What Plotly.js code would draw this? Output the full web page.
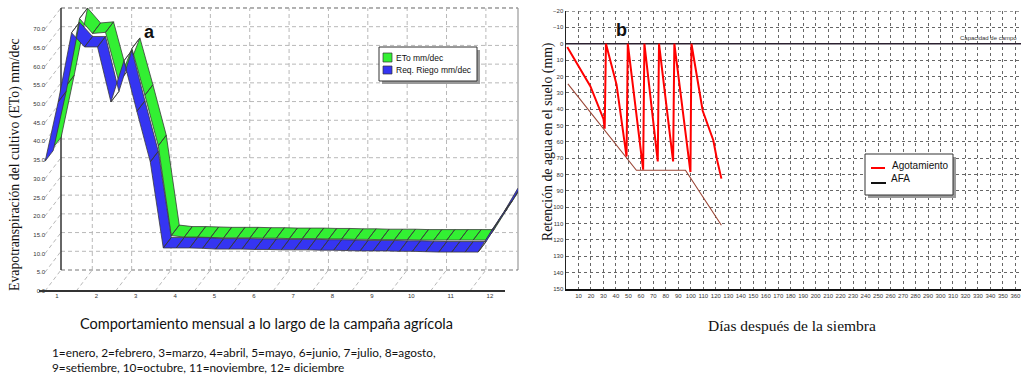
<!DOCTYPE html>
<html><head><meta charset="utf-8">
<script src="https://cdn.plot.ly/plotly-3.0.1.min.js"></script>
<style>html,body{margin:0;padding:0;background:#fff;}#chart{width:1022px;height:377px;}</style>
</head><body><div id="chart"></div>
<script>
// ---------- Panel a data (decadal points, month units) ----------
const decadePos = [0.70,1.03,1.37,1.70,2.03,2.37,2.70,3.03,3.37,3.70,4.03,4.37,4.70,5.03,5.37,5.70,6.03,6.37,6.70,7.03,7.37,7.70,8.03,8.37,8.70,9.03,9.37,9.70,10.03,10.37,10.70,11.03,11.37,11.70,12.03,12.37,12.70];
const etoValues   = [35.5,52.0,70.0,66.0,66.3,53.0,62.0,49.5,36.0,12.0,11.6,11.6,11.5,11.4,11.4,11.4,11.3,11.3,11.2,11.2,11.2,11.1,11.1,11.0,11.0,10.9,10.9,10.9,10.8,10.8,10.8,10.8,10.8,10.8,16.3,21.8,27.5];
const riegoValues = [34.7,50.5,69.0,65.2,65.2,50.5,61.5,48.0,34.5,11.5,11.5,11.5,11.4,11.2,11.2,11.2,11.1,11.1,11.0,11.0,11.0,10.9,10.9,10.8,10.7,10.7,10.7,10.6,10.6,10.5,10.4,10.4,10.4,10.4,16.0,21.4,27.3];
const monthTicks = [1,2,3,4,5,6,7,8,9,10,11,12];
const etoTicks = [0,5,10,15,20,25,30,35,40,45,50,55,60,65,70];
const gridMonths = [1.49,2.49,3.49,4.49,5.49,6.49,7.49,8.49,9.49,10.49,11.49];
const seriesNamesA = ["ETo mm/dec","Req. Riego mm/dec"];

// ---------- Panel b data ----------
const agotDays = [1,19.5,30,31,32,40.5,48.5,49.5,61.8,62.8,73.5,74.5,85.8,86.8,99.7,100.5,109.5,118,121,124.5];
const agotMm   = [2,26,46,52,0,25,69,0,77,0,72,0,72,0,78.5,0,41,59,71,82.5];
const afaDays = [1.5,56.4,95.7,124.5];
const afaMm   = [24.6,77.4,77.4,111];
const capDays = [0,365];
const capMm = [0,0];
const dayTicks = [10,20,30,40,50,60,70,80,90,100,110,120,130,140,150,160,170,180,190,200,210,220,230,240,250,260,270,280,290,300,310,320,330,340,350,360];
const mmTicks = [-20,-10,0,10,20,30,40,50,60,70,80,90,100,110,120,130,140,150];

// ---------- geometry ----------
const W=1022,H=377;
const fx = p => p/W, fy = p => 1-p/H;
const mOf = px => 1+(px-57)/39.36;       // panel a pixel -> month
const vOf = py => (291-py)/3.743;         // panel a pixel -> value
const dxF = 16/39.36, dyF = 21/3.743;     // full 3D depth in data units
const XL = mOf(45), XR = mOf(518), TOP = 70;

function ribbon(xs, vs, slot, color, name){
  const hx=dxF/2, hy=dyF/2;
  const f=[slot*hx, slot*hy], b=[(slot+1)*hx,(slot+1)*hy];
  const X=[],Y=[];
  for(let i=0;i<xs.length-1;i++){
    X.push(xs[i]+f[0], xs[i+1]+f[0], xs[i+1]+b[0], xs[i]+b[0], xs[i]+f[0], null);
    Y.push(vs[i]+f[1], vs[i+1]+f[1], vs[i+1]+b[1], vs[i]+b[1], vs[i]+f[1], null);
  }
  return {type:'scatter',mode:'lines',x:X,y:Y,fill:'toself',fillcolor:color,
    line:{color:'#3a3a3a',width:0.8},xaxis:'x',yaxis:'y',name:name,showlegend:false,hoverinfo:'skip'};
}

const traces = [
  ribbon(decadePos, etoValues, 1, '#33f033', seriesNamesA[0]),
  ribbon(decadePos, riegoValues, 0, '#3535f2', seriesNamesA[1]),
  {type:'scatter',mode:'lines',x:capDays,y:capMm,xaxis:'x2',yaxis:'y2',line:{color:'#2b2030',width:1.6},showlegend:false,name:'Capacidad de campo'},
  {type:'scatter',mode:'lines',x:afaDays,y:afaMm,xaxis:'x2',yaxis:'y2',line:{color:'#9a4535',width:1.1},showlegend:false,name:'AFA'},
  {type:'scatter',mode:'lines',x:agotDays,y:agotMm,xaxis:'x2',yaxis:'y2',line:{color:'#ff0000',width:2},showlegend:false,name:'Agotamiento'}
];

const shapes = [];
const gA = {color:'#b8b8b8',width:1,dash:'4px,3px'};
etoTicks.forEach(v=>{ if(v>0) shapes.push({type:'line',xref:'x',yref:'y',x0:XL+dxF,x1:XR,y0:v+dyF,y1:v+dyF,line:gA,layer:'below'}); });
shapes.push({type:'line',xref:'x',yref:'y',x0:XL+dxF,x1:XR,y0:dyF,y1:dyF,line:{color:'#777',width:1,dash:'4px,3px'},layer:'below'});
shapes.push({type:'line',xref:'x',yref:'y',x0:XL+dxF,x1:XR,y0:TOP+dyF,y1:TOP+dyF,line:{color:'#888',width:1,dash:'4px,3px'},layer:'below'});
gridMonths.forEach(g=>{
  shapes.push({type:'line',xref:'x',yref:'y',x0:g+dxF,x1:g+dxF,y0:dyF,y1:TOP+dyF,line:gA,layer:'below'});
  shapes.push({type:'line',xref:'x',yref:'y',x0:g,x1:g+dxF,y0:0,y1:dyF,line:gA,layer:'below'});
});
etoTicks.forEach(v=>{ shapes.push({type:'line',xref:'x',yref:'y',x0:XL,x1:XL+dxF,y0:v,y1:v+dyF,line:gA,layer:'below'}); });
shapes.push({type:'line',xref:'x',yref:'y',x0:XL+dxF,x1:XL+dxF,y0:dyF,y1:TOP+dyF,line:{color:'#333',width:1.5},layer:'below'});
shapes.push({type:'line',xref:'paper',yref:'y',x0:fx(518),x1:fx(518),y0:dyF,y1:TOP+dyF,line:{color:'#999',width:1.2},layer:'below'});
shapes.push({type:'line',xref:'x',yref:'y',x0:mOf(39),x1:mOf(505),y0:0,y1:0,line:{color:'#333',width:2},layer:'below'});

shapes.push({type:'line',xref:'x2',yref:'y2',x0:0,x1:364.5,y0:-20,y1:-20,line:{color:'#333',width:1,dash:'3px,3px'},layer:'below'});

// legend a
shapes.push({type:'rect',xref:'paper',yref:'paper',x0:fx(382),x1:fx(480),y0:fy(84),y1:fy(50),fillcolor:'#9a9a9a',line:{width:0}});
shapes.push({type:'rect',xref:'paper',yref:'paper',x0:fx(379),x1:fx(477),y0:fy(81),y1:fy(47),fillcolor:'#ffffff',line:{color:'#333',width:1}});
shapes.push({type:'rect',xref:'paper',yref:'paper',x0:fx(383),x1:fx(392),y0:fy(62),y1:fy(53),fillcolor:'#33f033',line:{color:'#333',width:0.7}});
shapes.push({type:'rect',xref:'paper',yref:'paper',x0:fx(383),x1:fx(392),y0:fy(74),y1:fy(66),fillcolor:'#3535f2',line:{color:'#333',width:0.7}});
// legend b
shapes.push({type:'rect',xref:'paper',yref:'paper',x0:fx(868),x1:fx(956),y0:fy(198),y1:fy(157),fillcolor:'#9a9a9a',line:{width:0}});
shapes.push({type:'rect',xref:'paper',yref:'paper',x0:fx(865),x1:fx(953),y0:fy(195),y1:fy(154),fillcolor:'#ffffff',line:{color:'#333',width:1}});
shapes.push({type:'line',xref:'paper',yref:'paper',x0:fx(871),x1:fx(885),y0:fy(168),y1:fy(168),line:{color:'#ff0000',width:2}});
shapes.push({type:'line',xref:'paper',yref:'paper',x0:fx(871),x1:fx(886),y0:fy(183),y1:fy(183),line:{color:'#111',width:2}});

const serif = 'Liberation Serif, Times New Roman, serif';
const sans = 'Lato, Liberation Sans, sans-serif';
const tiny = {family:'Liberation Sans Narrow, Liberation Sans, sans-serif',size:6,color:'#333'};
const ann = (x,y,text,font,extra)=>Object.assign({xref:'paper',yref:'paper',x:fx(x),y:fy(y),text:text,showarrow:false,font:font,xanchor:'center',yanchor:'middle'},extra||{});
const annotations = [
  ann(15,165,'Evapotranspiración del cultivo (ETo) mm/dec',{family:serif,size:13.8,color:'#111'},{textangle:-90}),
  ann(266,323,'Comportamiento mensual a lo largo de la campaña agrícola',{family:sans,size:14.5,color:'#111'}),
  ann(50,352,'1=enero, 2=febrero, 3=marzo, 4=abril, 5=mayo, 6=junio, 7=julio, 8=agosto,',{family:sans,size:11.8,color:'#111'},{xanchor:'left'}),
  ann(50,367,'9=setiembre, 10=octubre, 11=noviembre, 12= diciembre',{family:sans,size:11.8,color:'#111'},{xanchor:'left'}),
  ann(149,32,'<b>a</b>',{family:'Liberation Sans, Arial, sans-serif',size:18,color:'#111'}),
  ann(394,58,seriesNamesA[0],{family:'Liberation Sans, sans-serif',size:8.5,color:'#111'},{xanchor:'left'}),
  ann(394,70,seriesNamesA[1],{family:'Liberation Sans, sans-serif',size:8.5,color:'#111'},{xanchor:'left'}),
  ann(548,142,'Retención de agua en el suelo (mm)',{family:serif,size:13.8,color:'#111'},{textangle:-90}),
  ann(792,325,'Días después de la siembra',{family:serif,size:15.5,color:'#111'}),
  ann(621,30,'<b>b</b>',{family:'Liberation Sans, Arial, sans-serif',size:18,color:'#111'}),
  ann(1019,38,'Capacidad de campo',tiny,{xanchor:'right'}),
  ann(890,165,'Agotamiento',{family:'Liberation Sans, sans-serif',size:10,color:'#111'},{xanchor:'left'}),
  ann(889,178,'AFA',{family:'Liberation Sans, sans-serif',size:10,color:'#111'},{xanchor:'left'})
];

const layout = {
  width:W,height:H,margin:{l:0,r:0,t:0,b:0},paper_bgcolor:'#fff',plot_bgcolor:'rgba(0,0,0,0)',showlegend:false,
  xaxis:{domain:[fx(36),fx(518)],range:[mOf(36),mOf(518)],anchor:'free',position:fy(291),tickvals:monthTicks,
    ticks:'',tickangle:0,showgrid:false,zeroline:false,showline:false,tickfont:tiny},
  yaxis:{domain:[fy(294),fy(6)],range:[vOf(294),vOf(6)],anchor:'free',position:fx(45),tickvals:etoTicks,
    ticktext:etoTicks.map(v=>v.toFixed(1)),ticks:'',tickangle:0,showgrid:false,zeroline:false,showline:false,tickfont:tiny},
  xaxis2:{domain:[fx(566),fx(1021)],range:[0,364.5],anchor:'y2',tickvals:dayTicks,ticks:'',tickangle:0,tickfont:tiny,
    showgrid:true,gridcolor:'#666',griddash:'3px,3px',gridwidth:1,zeroline:false,showline:true,linecolor:'#111',linewidth:2},
  yaxis2:{domain:[fy(289),fy(11)],range:[150,-20],anchor:'x2',tickvals:mmTicks,ticks:'',tickangle:0,tickfont:tiny,
    showgrid:true,gridcolor:'#666',griddash:'3px,3px',gridwidth:1,zeroline:false,showline:true,linecolor:'#222',linewidth:1.5},
  shapes:shapes,annotations:annotations
};
Plotly.newPlot('chart',traces,layout,{staticPlot:true,displayModeBar:false});
</script></body></html>
